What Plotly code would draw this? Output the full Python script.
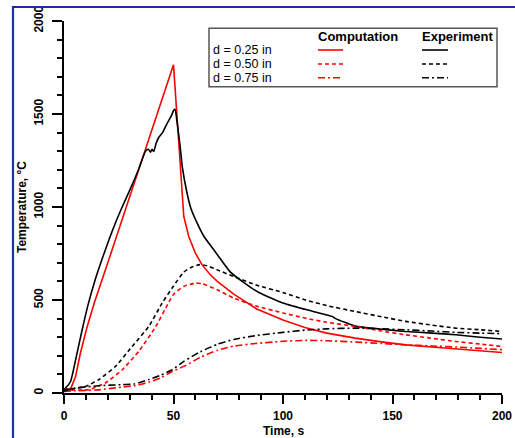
import plotly.graph_objects as go

# ---- data ----
t_comp_025 = [0, 3, 5.3, 7.5, 10.6, 14, 20, 30, 40, 50, 54.7, 57, 60, 63, 66.5, 70, 77.5, 88, 100, 110, 120, 133, 145, 156, 168, 178.8, 190, 200]
T_comp_025 = [18, 22, 89, 215, 358, 490, 700, 1054, 1407, 1765, 949, 840, 752, 690, 640, 600, 532, 452, 392, 352, 322, 295, 275, 259, 247, 236, 227, 218]

t_exp_025 = [0, 0.7, 3, 5.3, 8.3, 11, 14, 18, 22, 26, 30.4, 34, 37.2, 38.5, 39.5, 40.2, 41, 42, 43.3, 45, 47.1, 49, 50.1, 50.7, 51.7, 53, 54, 56.2, 58, 60.8, 64, 68.4, 76, 82, 89, 99.6, 110, 122.5, 124, 133, 145, 156, 168, 178.8, 190, 200]
T_exp_025 = [20, 27, 62, 179, 340, 475, 600, 740, 870, 985, 1100, 1200, 1300, 1310, 1295, 1310, 1298, 1340, 1375, 1400, 1450, 1490, 1520, 1525, 1450, 1330, 1217, 1074, 990, 913, 840, 770, 650, 595, 540, 485, 450, 411, 400, 360, 343, 331, 322, 313, 300, 290]

t_comp_050 = [0, 6, 11.3, 18.9, 26.6, 34.2, 41.8, 47.5, 50, 54.7, 60, 63, 70, 77.5, 87.4, 100, 110, 120, 133, 145, 156, 168, 178.8, 190, 200]
T_comp_050 = [15, 16, 18, 54, 125, 225, 355, 480, 530, 573, 591, 588, 555, 510, 469, 430, 403, 380, 358, 333, 313, 294, 277, 263, 250]

t_exp_050 = [0, 5, 9.8, 15.9, 23.5, 31.1, 38.7, 44.8, 50, 54.7, 58, 62, 66, 70, 77.5, 87.4, 100, 110, 120, 133, 145, 156, 168, 178.8, 190, 200]
T_exp_050 = [18, 25, 35, 72, 143, 250, 358, 483, 575, 650, 675, 690, 682, 662, 626, 582, 540, 501, 470, 438, 410, 385, 365, 349, 340, 331]

t_comp_075 = [0, 5, 16.7, 26.6, 31.9, 38.7, 44, 49.4, 54.7, 62.3, 70, 77.5, 87.4, 100, 110, 120, 133, 145, 156, 168, 178.8, 190, 200]
T_comp_075 = [9, 12, 18, 32, 38, 58, 80, 116, 143, 192, 230, 252, 266, 278, 283, 281, 274, 266, 259, 253, 247, 240, 233]

t_exp_075 = [0, 5.3, 15.9, 26.6, 31.9, 38.7, 44, 49.4, 54.7, 62.3, 70, 77.5, 87.4, 100, 110, 120, 133, 145, 156, 168, 178.8, 190, 200]
T_exp_075 = [10, 27, 39, 45, 48, 72, 95, 125, 170, 222, 262, 288, 308, 326, 338, 345, 349, 345, 340, 333, 326, 322, 319]

row_labels = ["d = 0.25 in", "d = 0.50 in", "d = 0.75 in"]
col_labels = ["Computation", "Experiment"]
x_ticks = [0, 50, 100, 150, 200]
y_ticks = [0, 500, 1000, 1500, 2000]

FONT = "Liberation Sans, Arial, sans-serif"
DASH = "4px,3px"
DASHDOT = "7px,3px,2px,3px"
styles = ["solid", DASH, DASHDOT]

fig = go.Figure()
series = [
    (t_comp_025, T_comp_025, "red", "solid", "linear"),
    (t_exp_025, T_exp_025, "black", "solid", "spline"),
    (t_comp_050, T_comp_050, "red", DASH, "spline"),
    (t_exp_050, T_exp_050, "black", DASH, "spline"),
    (t_comp_075, T_comp_075, "red", DASHDOT, "spline"),
    (t_exp_075, T_exp_075, "black", DASHDOT, "spline"),
]
for xs, ys, col, dash, shape in series:
    line = dict(color=col, width=1.6, dash=dash, shape=shape)
    if shape == "spline":
        line["smoothing"] = 0.5
    fig.add_trace(go.Scatter(x=xs, y=ys, mode="lines", line=line,
                             showlegend=False, hoverinfo="skip"))

W, H = 515, 438
L, R, T, B = 64, 13, 21, 45
pw, ph = W - L - R, H - T - B
def px(x):
    return (x - L) / pw
def py(y):
    return (H - B - y) / ph

shapes = []
# blue frame (left and top)
shapes.append(dict(type="path", xref="paper", yref="paper",
                   path=f"M {px(13)} {py(445)} L {px(13)} {py(7)} L {px(520)} {py(7)}",
                   line=dict(color="#1a2fa6", width=2.2)))
# legend box
shapes.append(dict(type="rect", xref="paper", yref="paper",
                   x0=px(209), x1=px(497), y0=py(86.7), y1=py(28.3),
                   fillcolor="white", line=dict(color="#555555", width=1.5), layer="above"))
annotations = []
annotations.append(dict(text=f"<b>{col_labels[0]}</b>", xref="paper", yref="paper",
                        x=px(358), y=py(36.7), showarrow=False, xanchor="center", yanchor="middle",
                        font=dict(family=FONT, size=13, color="black")))
annotations.append(dict(text=f"<b>{col_labels[1]}</b>", xref="paper", yref="paper",
                        x=px(457), y=py(36.7), showarrow=False, xanchor="center", yanchor="middle",
                        font=dict(family=FONT, size=13, color="black")))
row_y = [50, 64, 77.7]
for lab, yy, st in zip(row_labels, row_y, styles):
    annotations.append(dict(text=lab, xref="paper", yref="paper", x=px(211), y=py(yy),
                            showarrow=False, xanchor="left", yanchor="middle",
                            font=dict(family=FONT, size=12.5, color="black")))
    shapes.append(dict(type="line", xref="paper", yref="paper", x0=px(318), x1=px(343),
                       y0=py(yy), y1=py(yy), line=dict(color="red", width=1.6, dash=st), layer="above"))
    shapes.append(dict(type="line", xref="paper", yref="paper", x0=px(422), x1=px(448),
                       y0=py(yy), y1=py(yy), line=dict(color="black", width=1.6, dash=st), layer="above"))

annotations.append(dict(text="<b>Time, s</b>", xref="paper", yref="paper", x=0.5, y=py(431),
                        showarrow=False, xanchor="center", yanchor="middle",
                        font=dict(family=FONT, size=12, color="black")))
annotations.append(dict(text="<b>Temperature, °C</b>", xref="paper", yref="paper", x=px(22), y=0.5,
                        showarrow=False, xanchor="center", yanchor="middle", textangle=-90,
                        font=dict(family=FONT, size=12, color="black")))

fig.update_layout(
    width=W, height=H,
    margin=dict(l=L, r=R, t=T, b=B, pad=0, autoexpand=False),
    paper_bgcolor="white", plot_bgcolor="white",
    shapes=shapes, annotations=annotations,
    font=dict(family=FONT, color="black"),
    xaxis=dict(range=[0, 200], tickvals=x_ticks, ticktext=[str(v) for v in x_ticks],
               automargin=False,
               showgrid=False, zeroline=False, showline=True, linecolor="black", linewidth=2,
               ticks="outside", ticklen=9, tickwidth=1.5, tickcolor="black",
               ticklabelstandoff=2,
               tickfont=dict(family=FONT, size=12, color="black", weight="bold"),
               minor=dict(dtick=10, ticks="outside", ticklen=5, tickwidth=1.5, tickcolor="black", showgrid=False)),
    yaxis=dict(range=[0, 2000], tickvals=y_ticks, ticktext=[str(v) for v in y_ticks],
               automargin=False,
               showgrid=False, zeroline=False, showline=True, linecolor="black", linewidth=2,
               ticks="outside", ticklen=10, tickwidth=1.5, tickcolor="black", tickangle=-90,
               ticklabelstandoff=4,
               tickfont=dict(family=FONT, size=12, color="black", weight="bold"),
               minor=dict(dtick=100, ticks="outside", ticklen=5, tickwidth=1.5, tickcolor="black", showgrid=False)),
)

fig.write_html("out.html", config={"displayModeBar": False},
               post_script="document.body.style.margin='0px';document.body.style.overflow='hidden';")
